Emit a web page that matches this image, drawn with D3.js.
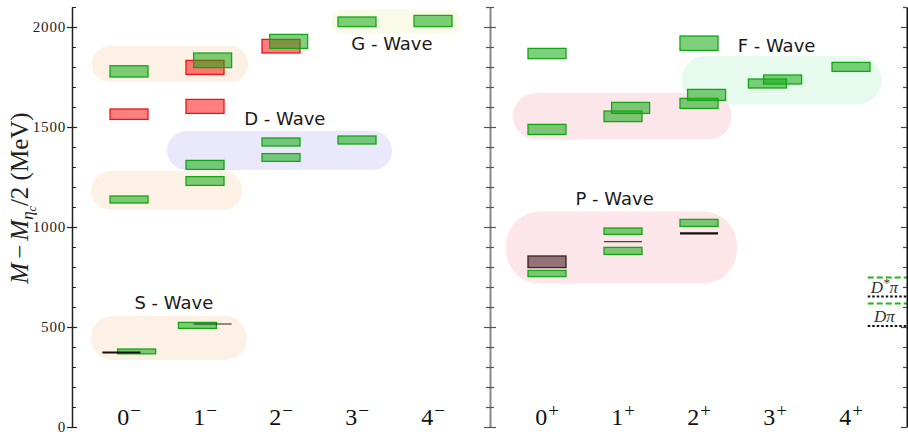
<!DOCTYPE html>
<html><head><meta charset="utf-8">
<script src="https://cdn.jsdelivr.net/npm/d3@7"></script>
<style>
html,body{margin:0;padding:0;background:#fff;}
svg{display:block;}
</style></head>
<body>
<svg id="chart" width="908" height="434"></svg>
<script>
// ---------------- data ----------------
const negCategories = ["0", "1", "2", "3", "4"];
const posCategories = ["0", "1", "2", "3", "4"];
const yMajorTicks = [0, 500, 1000, 1500, 2000];
const yMinorTicks = [100,200,300,400,600,700,800,900,1100,1200,1300,1400,1600,1700,1800,1900,2100];

// [J, offset, low, high]  (MeV)
const greenNeg = [
  [0, 0.1, 366, 390], [0, 0, 1120, 1155], [0, 0, 1750, 1806],
  [1, -0.1, 493, 523], [1, 0, 1208, 1252], [1, 0, 1288, 1333], [1, 0.1, 1797, 1870],
  [2, 0, 1328, 1367], [2, 0, 1405, 1445], [2, 0.1, 1893, 1963],
  [3, 0, 1415, 1455], [3, 0, 2002, 2050],
  [4, 0, 2002, 2058]
];
const redNeg = [
  [0, 0, 1538, 1590],
  [1, 0, 1568, 1638], [1, 0, 1763, 1833],
  [2, 0, 1870, 1938]
];
const expLinesNeg = [[0, -0.1, 373], [1, 0.1, 515]];

const greenPos = [
  [0, 0, 752, 783], [0, 0, 1463, 1513], [0, 0, 1842, 1893],
  [1, 0, 863, 898], [1, 0, 963, 995], [1, 0, 1527, 1580], [1, 0.1, 1568, 1623],
  [2, 0, 1003, 1038], [2, 0, 1593, 1643], [2, 0.1, 1633, 1688], [2, 0, 1883, 1955],
  [3, -0.1, 1695, 1740], [3, 0.1, 1715, 1760],
  [4, 0, 1778, 1823]
];
const expBoxPos = [[0, 0, 797, 855]];
const expLinesPos = [[1, 0, 927], [2, 0, 968]];

// thresholds (MeV)
const thresholdNames = ["D*π", "Dπ"];
const thresholdLattice = [747, 617];
const thresholdPhysical = [652, 505];

// wave groupings: [x0, x1, y0, y1] in (J, MeV)
const bandsNeg = [
  [-0.49, 1.57, 1725, 1905],
  [-0.50, 1.49, 1085, 1280],
  [0.50, 3.46, 1285, 1480],
  [2.66, 4.36, 1968, 2088],
  [-0.50, 1.55, 335, 555]
];
const bandColorsNeg = ["#fdf1e5", "#fdf1e5", "#e9e9fb", "#fafae8", "#fdf1e5"];
const bandsPos = [
  [1.77, 4.40, 1613, 1855],
  [-0.45, 2.43, 1438, 1670],
  [-0.54, 2.50, 717, 1078]
];
const bandColorsPos = ["#e6faee", "#fde6e9", "#fde6e9"];

const waveLabelsNeg = [["G - Wave", 3.46, 1915], ["D - Wave", 2.05, 1540], ["S - Wave", 0.59, 620]];
const waveLabelsPos = [["F - Wave", 3.02, 1906], ["P - Wave", 0.89, 1140]];

// ---------------- drawing ----------------
const svg = d3.select("#chart");
const y = d3.scaleLinear().domain([0, 2100]).range([427, 7]);
const xL = d3.scaleLinear().domain([-0.75, 4.75]).range([72, 490]);
const xR = d3.scaleLinear().domain([-0.75, 4.75]).range([490, 908]);
const halfW = 0.25;

function drawBands(g, x, bands, colors) {
  g.selectAll("rect.band").data(bands).join("rect")
    .attr("class", "band")
    .attr("x", d => x(d[0])).attr("width", d => x(d[1]) - x(d[0]))
    .attr("y", d => y(d[3])).attr("height", d => y(d[2]) - y(d[3]))
    .attr("rx", d => Math.min((y(d[2]) - y(d[3])) / 2, 34))
    .attr("fill", (d, i) => colors[i]);
}
function drawBoxes(g, x, data, fill, op, stroke, cls) {
  g.selectAll("rect." + cls).data(data).join("rect")
    .attr("class", cls)
    .attr("x", d => x(d[0] + d[1] - halfW)).attr("width", d => x(d[0] + d[1] + halfW) - x(d[0] + d[1] - halfW))
    .attr("y", d => y(d[3])).attr("height", d => y(d[2]) - y(d[3]))
    .attr("fill", fill).attr("fill-opacity", op)
    .attr("stroke", stroke).attr("stroke-width", 1.3);
}
function drawLines(g, x, data, color, widths) {
  g.selectAll("line.exp").data(data).join("line")
    .attr("class", "exp")
    .attr("x1", d => x(d[0] + d[1] - halfW)).attr("x2", d => x(d[0] + d[1] + halfW))
    .attr("y1", d => y(d[2])).attr("y2", d => y(d[2]))
    .attr("stroke", (d, i) => color[i]).attr("stroke-width", (d, i) => widths[i]);
}
function drawWaveLabels(g, x, labels) {
  g.selectAll("text.wave").data(labels).join("text")
    .attr("class", "wave")
    .attr("x", d => x(d[1])).attr("y", d => y(d[2]))
    .attr("text-anchor", "middle").attr("dy", "0.36em")
    .attr("font-family", "DejaVu Sans").attr("font-size", 18).attr("fill", "#1a1a1a")
    .text(d => d[0]);
}
function drawCats(g, x, cats, sign) {
  const t = g.selectAll("text.cat").data(cats).join("text")
    .attr("class", "cat")
    .attr("x", (d, i) => x(i)).attr("y", 425)
    .attr("text-anchor", "middle")
    .attr("font-family", "Liberation Serif").attr("fill", "#111");
  t.append("tspan").attr("font-size", 24).text(d => d);
  t.append("tspan").attr("font-size", 19).attr("dx", 1).attr("dy", -8).text(sign);
}

const gL = svg.append("g");
const gR = svg.append("g");

drawBands(gL, xL, bandsNeg, bandColorsNeg);
drawBands(gR, xR, bandsPos, bandColorsPos);

drawBoxes(gL, xL, redNeg, "rgb(255,0,0)", 0.5, "rgb(235,20,20)", "red");
drawBoxes(gL, xL, greenNeg, "rgb(20,170,20)", 0.55, "rgb(20,165,20)", "green");
drawLines(gL, xL, expLinesNeg, ["#111", "#222"], [2, 1.2]);

drawBoxes(gR, xR, expBoxPos, "rgb(60,20,25)", 0.55, "#3a2023", "exp");
drawBoxes(gR, xR, greenPos, "rgb(20,170,20)", 0.55, "rgb(20,165,20)", "green");
drawLines(gR, xR, expLinesPos, ["#5a3c3e", "#111"], [1.4, 2.2]);

drawWaveLabels(gL, xL, waveLabelsNeg);
drawWaveLabels(gR, xR, waveLabelsPos);

drawCats(gL, xL, negCategories, "\u2212");
drawCats(gR, xR, posCategories, "+");

// thresholds
const thr = gR.append("g");
thr.selectAll("line.lat").data(thresholdLattice).join("line")
  .attr("class", "lat")
  .attr("x1", xR(4.22)).attr("x2", xR(4.75)).attr("y1", d => y(d)).attr("y2", d => y(d))
  .attr("stroke", "#1cb81c").attr("stroke-width", 2).attr("stroke-dasharray", "6,3");
thr.selectAll("line.phys").data(thresholdPhysical).join("line")
  .attr("class", "phys")
  .attr("x1", xR(4.22)).attr("x2", xR(4.75)).attr("y1", d => y(d)).attr("y2", d => y(d))
  .attr("stroke", "#111").attr("stroke-width", 2).attr("stroke-dasharray", "2.5,2");
const thrLabels = thr.selectAll("text.thr").data(thresholdNames).join("text")
  .attr("class", "thr")
  .attr("x", xR(4.44)).attr("y", (d, i) => y(thresholdPhysical[i]) - 4)
  .attr("text-anchor", "middle")
  .attr("font-family", "Liberation Serif").attr("font-style", "italic")
  .attr("font-size", 17).attr("fill", "#333");
thrLabels.each(function(d) {
  const s = d3.select(this);
  if (d.includes("*")) {
    s.append("tspan").text("D");
    s.append("tspan").attr("font-size", 13).attr("dy", -6).text("*");
    s.append("tspan").attr("dy", 6).text("π");
  } else {
    s.text(d);
  }
});

// axes
const axL = svg.append("g").attr("transform", `translate(${xL.range()[0]},0)`);
axL.call(d3.axisLeft(y).tickValues(yMajorTicks).tickSize(0).tickPadding(6).tickFormat(d3.format("d")));
axL.select(".domain").attr("stroke", "#222").attr("stroke-width", 1.5);
axL.selectAll(".tick line").attr("x1", -5).attr("x2", 5).attr("stroke", "#222").attr("stroke-width", 1.2);
axL.selectAll(".tick text").attr("font-family", "Liberation Serif").attr("font-size", 15)
  .attr("letter-spacing", "0.8px").attr("fill", "#222");
const axLm = svg.append("g").attr("transform", `translate(${xL.range()[0]},0)`);
axLm.call(d3.axisLeft(y).tickValues(yMinorTicks).tickSize(0).tickFormat(""));
axLm.select(".domain").remove();
axLm.selectAll(".tick line").attr("x1", 0).attr("x2", 4).attr("stroke", "#222").attr("stroke-width", 1);

// divider spine (ticks both sides)
const axM = svg.append("g").attr("transform", `translate(${xR.range()[0]},0)`);
axM.call(d3.axisLeft(y).tickValues(yMajorTicks.concat(yMinorTicks)).tickSize(0).tickFormat(""));
axM.select(".domain").attr("stroke", "#888").attr("stroke-width", 2);
axM.selectAll(".tick line")
  .attr("x1", d => yMajorTicks.includes(d) ? -6 : -4)
  .attr("x2", d => yMajorTicks.includes(d) ? 6 : 4)
  .attr("stroke", "#555").attr("stroke-width", 1.2);

// right spine (ticks inward)
const axRr = svg.append("g").attr("transform", `translate(${xR.range()[1] - 1},0)`);
axRr.call(d3.axisRight(y).tickValues(yMajorTicks.concat(yMinorTicks)).tickSize(0).tickFormat(""));
axRr.select(".domain").attr("stroke", "#111").attr("stroke-width", 2);
axRr.selectAll(".tick line")
  .attr("x1", d => yMajorTicks.includes(d) ? -6 : -4).attr("x2", 0)
  .attr("stroke", "#444").attr("stroke-width", 1.2);

// y label
const yl = svg.append("text")
  .attr("transform", "translate(28,198) rotate(-90)")
  .attr("text-anchor", "middle")
  .attr("font-family", "Liberation Serif").attr("font-size", 25).attr("fill", "#222");
yl.append("tspan").attr("font-style", "italic").text("M");
yl.append("tspan").attr("dx", 4).text("\u2212");
yl.append("tspan").attr("dx", 4).attr("font-style", "italic").text("M");
yl.append("tspan").attr("font-style", "italic").attr("font-size", 17).attr("dy", 5).text("η");
yl.append("tspan").attr("font-style", "italic").attr("font-size", 12).attr("dy", 3).text("c");
yl.append("tspan").attr("dy", -8).text("/2 (MeV)");
</script>
</body></html>
